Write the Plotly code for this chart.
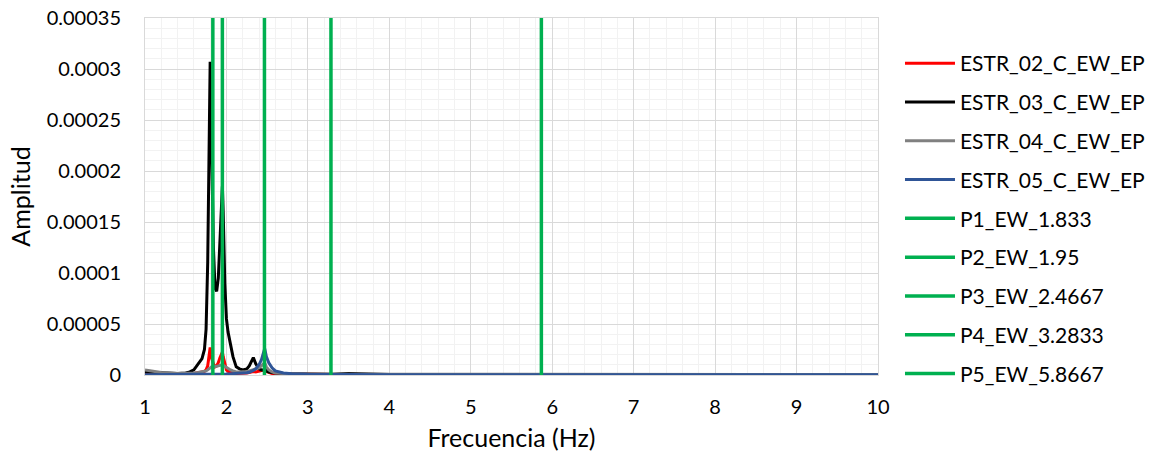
import plotly.graph_objects as go

# ---- data ----
freq = [1.0, 1.2, 1.4, 1.5, 1.55, 1.6, 1.65, 1.7, 1.73, 1.75, 1.77, 1.78, 1.79, 1.8,
        1.81, 1.82, 1.84, 1.86, 1.88, 1.9, 1.92, 1.94, 1.95, 1.96, 1.98, 2.0, 2.02,
        2.05, 2.08, 2.12, 2.16, 2.2, 2.25, 2.28, 2.31, 2.33, 2.36, 2.4, 2.43, 2.45,
        2.47, 2.49, 2.52, 2.56, 2.6, 2.7, 2.8, 3.0, 3.3, 3.5, 4.0, 5.0, 6.0, 7.0,
        8.0, 9.0, 10.0]

estr_02 = [1.5e-6, 1.2e-6, 1.0e-6, 1.0e-6, 1.2e-6, 1.5e-6, 2.0e-6, 2.5e-6, 3.5e-6, 5e-6,
           9e-6, 1.5e-5, 2.1e-5, 2.7e-5, 2.2e-5, 1.6e-5, 1.1e-5, 8e-6, 9e-6, 1.2e-5,
           1.7e-5, 2.2e-5, 2.25e-5, 1.8e-5, 1.0e-5, 5e-6, 3.5e-6, 2.5e-6, 2e-6, 1.5e-6,
           1.5e-6, 1.5e-6, 2e-6, 2.5e-6, 3e-6, 3.5e-6, 3e-6, 3.5e-6, 4e-6, 4.5e-6,
           5e-6, 3.5e-6, 2.5e-6, 1.5e-6, 1.2e-6, 1e-6, 8e-7, 6e-7, 5e-7, 5e-7, 4e-7,
           3e-7, 3e-7, 3e-7, 3e-7, 3e-7, 3e-7]

estr_03 = [3e-6, 2e-6, 1.5e-6, 2e-6, 3e-6, 5e-6, 1.0e-5, 1.6e-5, 2.5e-5, 4.5e-5,
           1.1e-4, 1.8e-4, 2.5e-4, 3.07e-4, 2.6e-4, 2.0e-4, 1.25e-4, 8.5e-5, 8.2e-5, 9.5e-5,
           1.3e-4, 1.7e-4, 1.85e-4, 1.6e-4, 9e-5, 5.5e-5, 4.2e-5, 3.0e-5, 1.8e-5, 8e-6,
           6e-6, 5e-6, 6e-6, 9e-6, 1.4e-5, 1.7e-5, 1.1e-5, 6e-6, 5e-6, 5e-6,
           6e-6, 4e-6, 3e-6, 2.5e-6, 2e-6, 1.5e-6, 1.2e-6, 1e-6, 8e-7, 1.5e-6, 5e-7,
           3e-7, 3e-7, 3e-7, 3e-7, 3e-7, 3e-7]

estr_04 = [5e-6, 2.5e-6, 1.5e-6, 1.5e-6, 1.8e-6, 2e-6, 2.5e-6, 3e-6, 3.5e-6, 4e-6,
           5e-6, 6e-6, 6.5e-6, 7e-6, 7.5e-6, 8e-6, 8e-6, 8e-6, 8.5e-6, 9e-6,
           9.5e-6, 1e-5, 1e-5, 9.5e-6, 8.5e-6, 7.5e-6, 6e-6, 5e-6, 4e-6, 3e-6,
           3e-6, 3e-6, 3.5e-6, 4e-6, 4.5e-6, 5e-6, 6e-6, 7e-6, 9e-6, 1.0e-5,
           1.2e-5, 8e-6, 5e-6, 3e-6, 2e-6, 1.5e-6, 1.2e-6, 1e-6, 8e-7, 8e-7, 6e-7,
           4e-7, 4e-7, 4e-7, 4e-7, 4e-7, 4e-7]

estr_05 = [3e-7, 3e-7, 3e-7, 3e-7, 3e-7, 3e-7, 3e-7, 4e-7, 4e-7, 4e-7,
           5e-7, 5e-7, 5e-7, 5e-7, 5e-7, 5e-7, 6e-7, 6e-7, 6e-7, 7e-7,
           7e-7, 8e-7, 8e-7, 9e-7, 1e-6, 1e-6, 1.1e-6, 1.2e-6, 1.3e-6, 1.4e-6,
           1.5e-6, 1.7e-6, 2.2e-6, 2.7e-6, 3.5e-6, 4.5e-6, 6e-6, 1.0e-5, 1.5e-5, 2.0e-5,
           2.6e-5, 1.8e-5, 1.2e-5, 7e-6, 4e-6, 2e-6, 1.2e-6, 7e-7, 4e-7, 4e-7, 3e-7,
           3e-7, 3e-7, 3e-7, 3e-7, 3e-7, 3e-7]

series_names = ["ESTR_02_C_EW_EP", "ESTR_03_C_EW_EP", "ESTR_04_C_EW_EP", "ESTR_05_C_EW_EP"]
series_values = [estr_02, estr_03, estr_04, estr_05]
series_colors = ["#FF0000", "#000000", "#808080", "#2F5597"]

peak_names = ["P1_EW_1.833", "P2_EW_1.95", "P3_EW_2.4667", "P4_EW_3.2833", "P5_EW_5.8667"]
peak_freqs = [1.833, 1.95, 2.4667, 3.2833, 5.8667]
peak_span = [0, 0.00035]

y_tickvals = [0, 0.00005, 0.0001, 0.00015, 0.0002, 0.00025, 0.0003, 0.00035]
y_ticktext = ["0", "0.00005", "0.0001", "0.00015", "0.0002", "0.00025", "0.0003", "0.00035"]
x_tickvals = [1, 2, 3, 4, 5, 6, 7, 8, 9, 10]

FONT = "Lato, Carlito, Calibri, sans-serif"

fig = go.Figure()
for i, (name, vals, col) in enumerate(zip(series_names, series_values, series_colors)):
    fig.add_trace(go.Scatter(x=freq, y=vals, mode="lines", name=name,
                             line=dict(color=col, width=3), legendgroup=f"g{i}"))
for j, (name, f) in enumerate(zip(peak_names, peak_freqs)):
    fig.add_trace(go.Scatter(x=[f, f], y=peak_span, mode="lines", name=name,
                             line=dict(color="#00B050", width=3.5), legendgroup=f"p{j}"))

fig.update_layout(
    width=1156, height=462,
    margin=dict(l=145, r=278, t=18, b=87, autoexpand=False),
    paper_bgcolor="white", plot_bgcolor="white",
    font=dict(family=FONT, size=20, color="#000000"),
    showlegend=True,
    legend=dict(x=1.030, xanchor="left", y=0.93, yanchor="top",
                font=dict(family=FONT, size=21, color="#000000"),
                tracegroupgap=8.5, itemwidth=50, bgcolor="rgba(0,0,0,0)",
                maxheight=460),
    xaxis=dict(range=[1, 10], tickvals=x_tickvals, showgrid=True, gridcolor="#D9D9D9",
               gridwidth=1, zeroline=False, showline=True, linecolor="#D9D9D9",
               mirror=True, ticks="", tickfont=dict(family=FONT, size=20), automargin=False,
               ticklabelstandoff=14, ticklabeloverflow="allow",
               minor=dict(dtick=0.2, showgrid=True, gridcolor="#F2F2F2", gridwidth=1),
               title=dict(text="Frecuencia (Hz)", font=dict(family=FONT, size=25), standoff=12)),
    yaxis=dict(range=[0, 0.00035], tickvals=y_tickvals, ticktext=y_ticktext,
               showgrid=True, gridcolor="#D9D9D9", gridwidth=1, zeroline=False,
               showline=True, linecolor="#D9D9D9", mirror=True, ticks="",
               tickfont=dict(family=FONT, size=20), automargin=False,
               ticklabelstandoff=19, ticklabeloverflow="allow",
               minor=dict(dtick=0.00001, showgrid=True, gridcolor="#F2F2F2", gridwidth=1),
               title=dict(text="Amplitud", font=dict(family=FONT, size=25), standoff=8)),
)

# remove the default 8px page margin so the figure fills the window exactly
fig.write_html("out.html", config={"displayModeBar": False},
               post_script="document.body.style.margin='0';")
